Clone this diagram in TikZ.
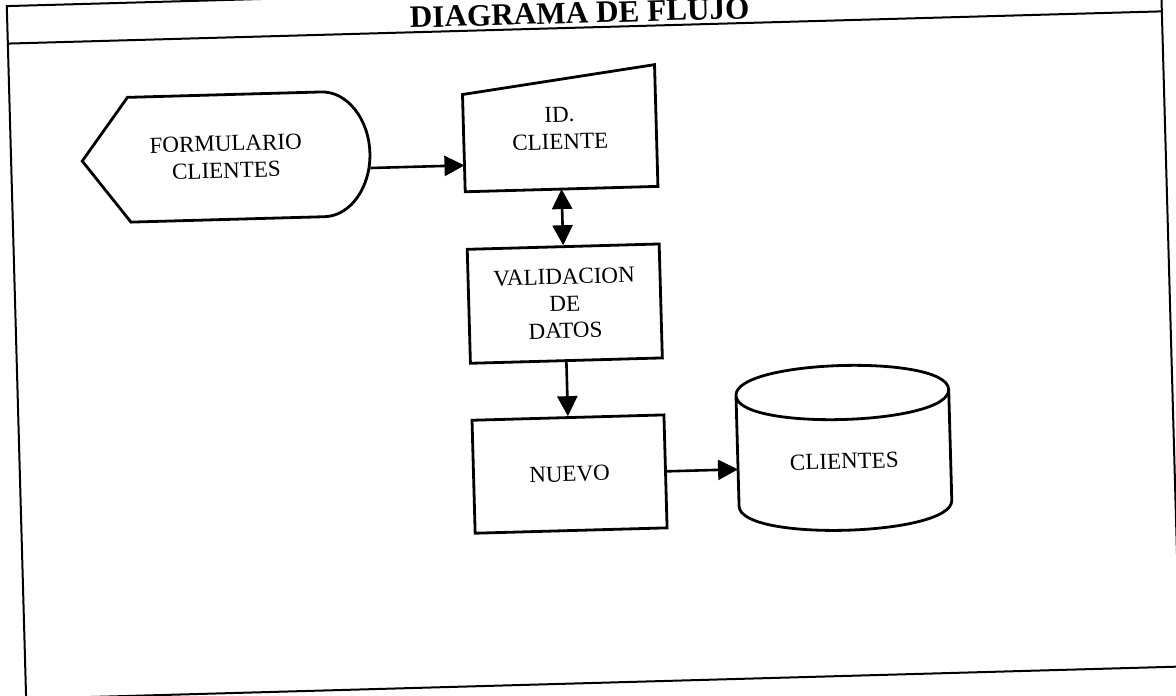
\documentclass[tikz,border=0pt]{standalone}
\usepackage{fontspec}
\setmainfont{Liberation Serif}
\usetikzlibrary{arrows.meta}
\begin{document}
\begin{tikzpicture}[x=0.5pt, y=-0.5pt,
  every node/.style={font=\fontsize{11.5}{13.5}\selectfont, align=center, inner sep=0pt, transform shape},
  shp/.style={draw, line width=1.4pt},
  frame/.style={draw, line width=1pt},
  arr/.style={line width=1.3pt, -{Triangle[length=10pt,width=10pt]}},
  dblarr/.style={line width=1.3pt, {Triangle[length=10pt,width=10pt]}-{Triangle[length=10pt,width=10pt]}}]
  \useasboundingbox (0,0) rectangle (1176,695);
  \begin{scope}[rotate around={1.6:(588,347)}]
  % frame and heading
  \draw[frame] (16.5,-10) rectangle (1171,683);
  \draw[frame] (16.5,27.5) -- (1171,27.5);
  \node[font=\fontsize{15.6}{18}\selectfont\bfseries, anchor=base] (title) at (589,23) {DIAGRAMA DE FLUJO};
  % shapes
  \node[minimum width=143.5pt, minimum height=62pt] (form) at (231.5,147) {FORMULARIO\\CLIENTES};
  \draw[shp] (form.west) -- ([shift={(47,0)}]form.north west) -- ([shift={(-47,0)}]form.north east)
    .. controls ([shift={(-21,0)}]form.north east) and ([shift={(0,-34)}]form.east) .. (form.east)
    .. controls ([shift={(0,34)}]form.east) and ([shift={(-21,0)}]form.south east) .. ([shift={(-47,0)}]form.south east)
    -- ([shift={(47,0)}]form.south west) -- cycle;
  \node[minimum width=96pt, minimum height=60.5pt] (id) at (566,127.5) {ID.\\CLIENTE};
  \draw[shp] (id.south west) -- ([shift={(0,24.5)}]id.north west) -- (id.north east) -- (id.south east) -- cycle;
  \node[shp, minimum width=96pt, minimum height=57pt] (val) at (566,303) {VALIDACION\\DE\\DATOS};
  \node[shp, minimum width=96pt, minimum height=56.5pt] (nuevo) at (566,473.5) {NUEVO};
  \node[minimum width=106pt, minimum height=68.5pt] (cli) at (841,468.5) {CLIENTES};
  \draw[shp] (cli.north west)
    .. controls ([shift={(0,-36)}]cli.north west) and ([shift={(0,-36)}]cli.north east) .. (cli.north east)
    .. controls ([shift={(0,36)}]cli.north east) and ([shift={(0,36)}]cli.north west) .. (cli.north west)
    -- ([shift={(0,-27)}]cli.south west)
    .. controls ([shift={(0,9)}]cli.south west) and ([shift={(0,9)}]cli.south east) .. ([shift={(0,-27)}]cli.south east)
    -- (cli.north east);
  % connectors
  \coordinate (formout) at ([shift={(0,15)}]form.east);
  \draw[arr] (formout) -- (formout -| id.west);
  \draw[dblarr] (id) -- (val);
  \draw[arr] (val) -- (nuevo);
  \draw[arr] (nuevo.east) -- (nuevo.east -| cli.west);
  \end{scope}
\end{tikzpicture}
\end{document}
